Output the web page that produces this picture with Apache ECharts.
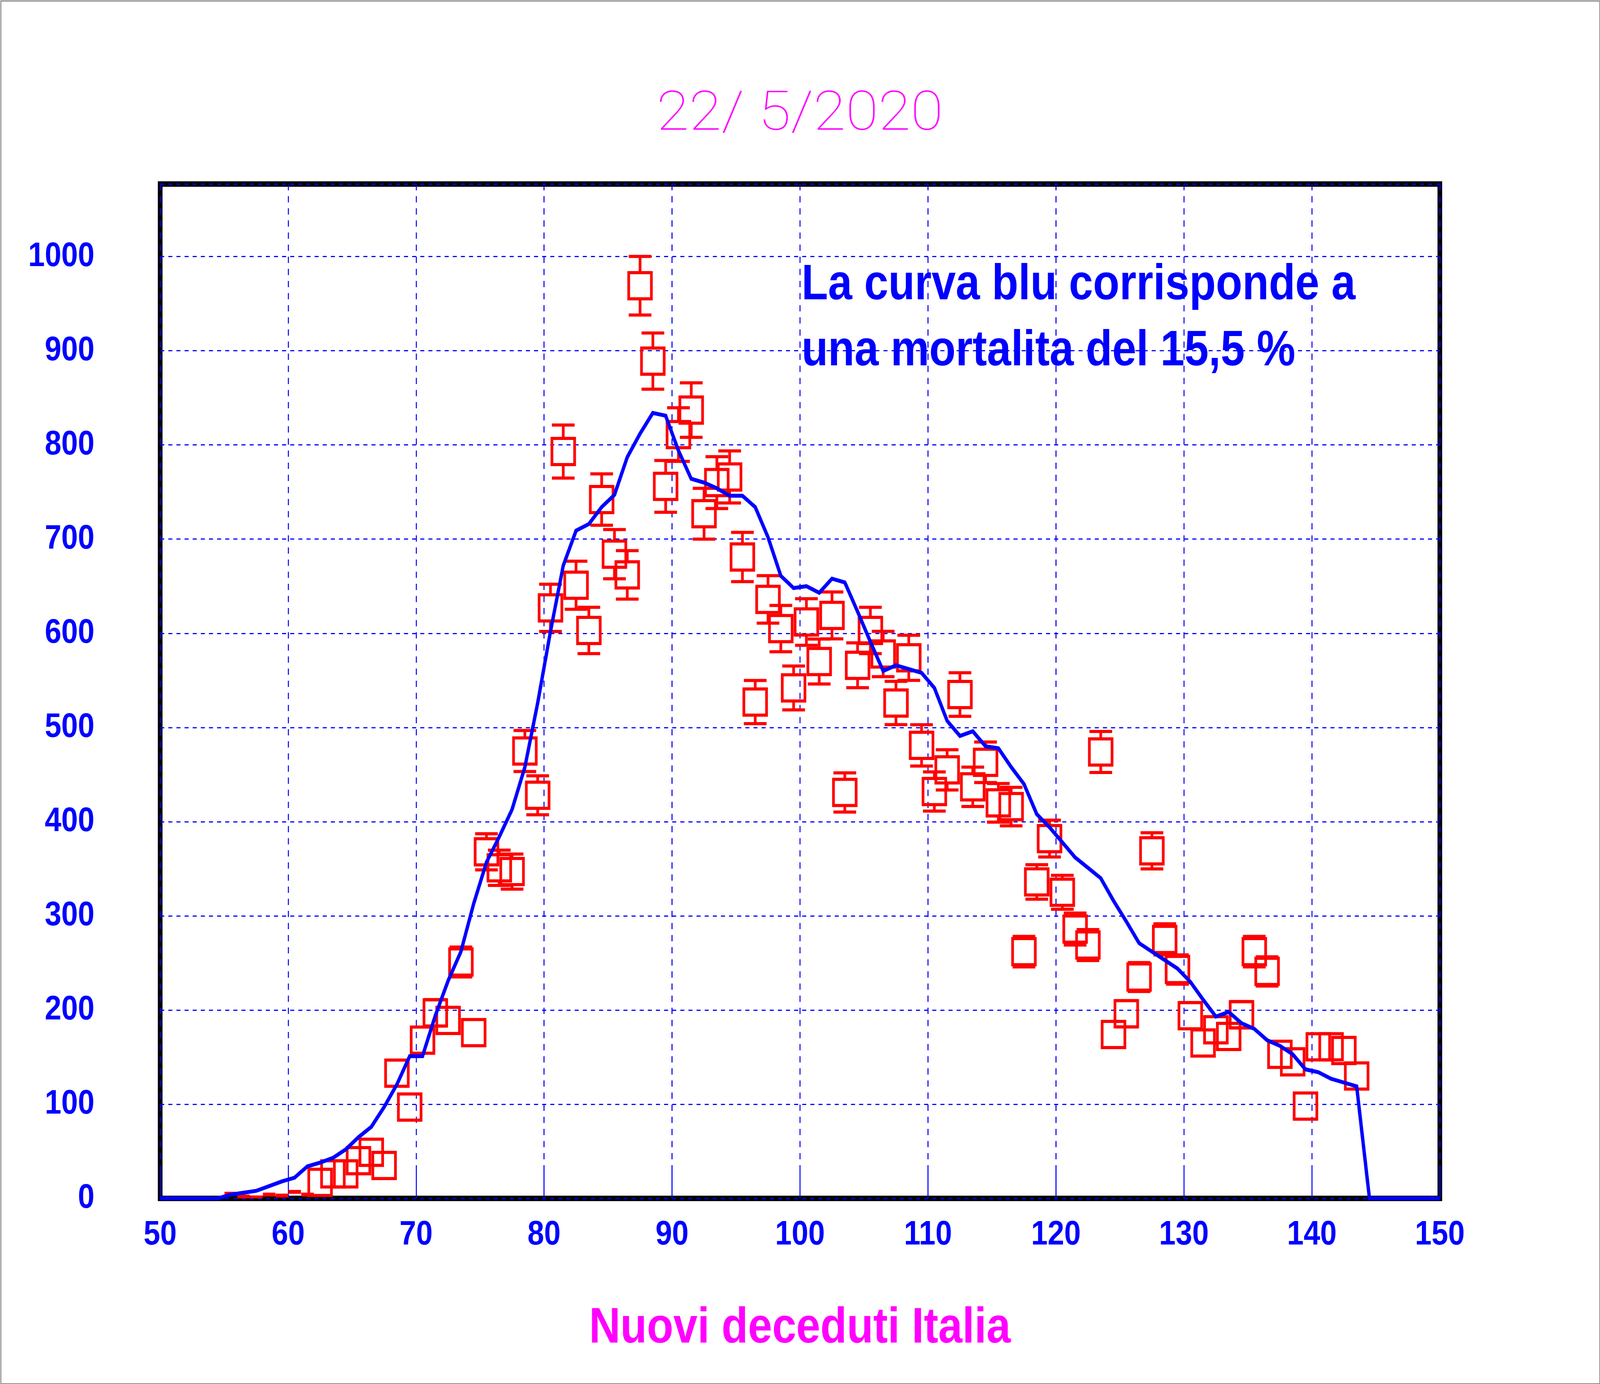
<!DOCTYPE html>
<html>
<head>
<meta charset="utf-8">
<style>
html,body{margin:0;padding:0;background:#fff;overflow:hidden;}
#chart{width:4725px;height:3542px;transform-origin:0 0;}
</style>
<script src="https://cdn.jsdelivr.net/npm/echarts@6/dist/echarts.min.js"></script>
</head>
<body>
<div id="chart"></div>
<script>
// ---- data ----
const days = [55.5,56.5,57.5,58.5,59.5,60.5,61.5,62.5,63.5,64.5,
  65.5,66.5,67.5,68.5,69.5,70.5,71.5,72.5,73.5,74.5,
  75.5,76.5,77.5,78.5,79.5,80.5,81.5,82.5,83.5,84.5,
  85.5,86.5,87.5,88.5,89.5,90.5,91.5,92.5,93.5,94.5,
  95.5,96.5,97.5,98.5,99.5,100.5,101.5,102.5,103.5,104.5,
  105.5,106.5,107.5,108.5,109.5,110.5,111.5,112.5,113.5,114.5,
  115.5,116.5,117.5,118.5,119.5,120.5,121.5,122.5,123.5,124.5,
  125.5,126.5,127.5,128.5,129.5,130.5,131.5,132.5,133.5,134.5,
  135.5,136.5,137.5,138.5,139.5,140.5,141.5,142.5,143.5];
const deaths = [5,2,1,4,3,7,4,17,26,26,
  40,49,35,133,97,168,197,189,251,176,
  368,351,347,475,428,627,793,651,603,742,
  684,662,969,889,756,811,837,727,760,766,
  681,527,636,605,542,612,570,619,431,566,
  603,578,526,574,481,432,455,535,437,463,
  420,416,262,336,382,325,286,269,474,174,
  196,235,369,275,243,194,165,179,172,195,
  262,241,153,145,98,161,161,157,130];
const modelX = [50,54.5,55.5,56.5,57.5,58.5,59.5,60.5,61.5,62.5,63.5,64.5,
  65.5,66.5,67.5,68.5,69.5,70.5,71.5,72.5,73.5,74.5,
  75.5,76.5,77.5,78.5,79.5,80.5,81.5,82.5,83.5,84.5,
  85.5,86.5,87.5,88.5,89.5,90.5,91.5,92.5,93.5,94.5,
  95.5,96.5,97.5,98.5,99.5,100.5,101.5,102.5,103.5,104.5,
  105.5,106.5,107.5,108.5,109.5,110.5,111.5,112.5,113.5,114.5,
  115.5,116.5,117.5,118.5,119.5,120.5,121.5,122.5,123.5,124.5,
  125.5,126.5,127.5,128.5,129.5,130.5,131.5,132.5,133.5,134.5,
  135.5,136.5,137.5,138.5,139.5,140.5,141.5,142.5,143.5,144.5,150];
const modelY = [0,0,4,6,8,13,18,22,34,38,43,52,
  65,76,97,121,151,151,194,231,262,313,
  357,384,413,458,526,602,672,709,716,734,
  747,787,812,834,831,794,764,760,754,746,
  746,734,702,661,648,650,643,658,654,623,
  591,560,566,562,558,542,507,491,496,480,
  478,458,440,408,394,378,362,351,340,316,
  294,271,262,253,244,230,211,193,198,186,
  180,168,162,153,137,134,127,123,119,0,0];
const xTicks = [50,60,70,80,90,100,110,120,130,140,150];
const yTicks = [0,100,200,300,400,500,600,700,800,900,1000];
const titleText = '22/ 5/2020';
const noteLines = ['La curva blu corrisponde a', 'una mortalita del 15,5 %'];
const xTitle = 'Nuovi deceduti Italia';

// fit the 4725x3542 drawing into whatever window we get
const el = document.getElementById('chart');
const iw = window.innerWidth || 4725, ih = window.innerHeight || 3542;
el.style.transform = 'scale(' + (iw / 4725) + ',' + (ih / 3542) + ')';

// ---- chart ----
const BLUE = '#0000ff', RED = '#ff0000', MAG = '#ff00ff';
const boldFont = "'Liberation Sans', Arial, Helvetica, sans-serif";
const chart = echarts.init(el, null, {renderer: 'canvas', width: 4725, height: 3542});

const points = days.map((d, i) => [d, deaths[i]]);
const model = modelX.map((x, i) => [x, modelY[i]]);

function renderBox(params, api) {
  const x = api.value(0), v = api.value(1);
  const c = api.coord([x, v]);
  const unit = api.size([1, 1]);
  const half = 33.5;
  const children = [];
  if (v < 10) {
    children.push({type: 'rect', shape: {x: c[0] - 18, y: c[1] - 5, width: 37, height: 10}, style: {fill: RED}});
  } else {
    children.push({type: 'rect', shape: {x: c[0] - half, y: c[1] - half, width: 2 * half, height: 2 * half},
      style: {fill: null, stroke: RED, lineWidth: 8}});
    const e = Math.sqrt(v) * unit[1];
    if (e >= half) {
      [-1, 1].forEach(s => {
        children.push({type: 'line', shape: {x1: c[0], y1: c[1] + s * half, x2: c[0], y2: c[1] + s * e},
          style: {stroke: RED, lineWidth: 8}});
        children.push({type: 'line', shape: {x1: c[0] - half, y1: c[1] + s * e, x2: c[0] + half, y2: c[1] + s * e},
          style: {stroke: RED, lineWidth: 8}});
      });
    }
  }
  return {type: 'group', children: children};
}

const option = {
  animation: false,
  backgroundColor: '#ffffff',
  grid: {left: 473, right: 473, top: 471, bottom: 475, show: true,
    borderColor: '#000000', borderWidth: 14, backgroundColor: 'transparent', containLabel: false},
  xAxis: {
    type: 'value', min: xTicks[0], max: xTicks[xTicks.length - 1], interval: 10,
    axisLine: {show: false},
    axisTick: {show: true, inside: true, length: 72, lineStyle: {color: BLUE, width: 3}},
    axisLabel: {color: BLUE, fontFamily: boldFont, fontWeight: 'bold', fontSize: 88, margin: 50},
    splitLine: {show: true, lineStyle: {color: BLUE, width: 3, type: [16, 15]}}
  },
  yAxis: {
    type: 'value', min: yTicks[0], max: 1077, interval: 100,
    axisLine: {show: false},
    axisTick: {show: true, inside: true, length: 10, lineStyle: {color: BLUE, width: 3}},
    axisLabel: {color: BLUE, fontFamily: boldFont, fontWeight: 'bold', fontSize: 88, margin: 194,
      formatter: v => (yTicks.indexOf(v) >= 0 ? String(v) : '')},
    splitLine: {show: true, lineStyle: {color: BLUE, width: 3, type: [12, 12]}}
  },
  series: [
    {type: 'custom', data: points, renderItem: renderBox, clip: true, z: 3,
      encode: {x: 0, y: 1}},
    {type: 'line', data: model, symbol: 'none', clip: true, z: 5,
      lineStyle: {color: BLUE, width: 10, join: 'miter'}}
  ],
  graphic: [
    {type: 'rect', left: 0, top: 0, silent: true, z: 100,
      shape: {x: 1.5, y: 1.5, width: 4722, height: 3539}, style: {fill: null, stroke: '#8c8c8c', lineWidth: 3}},
    {type: 'text', x: 2362, y: 297, scaleX: 1.25, z: 100,
      style: {text: titleText, fill: MAG, font: "100 140px Roboto, 'DejaVu Sans', sans-serif",
        textAlign: 'center', textVerticalAlign: 'middle'}},
    {type: 'text', x: 2367, y: 731, z: 100,
      style: {text: noteLines[0], fill: BLUE, font: "bold 128px " + boldFont,
        textAlign: 'left', textVerticalAlign: 'middle'}},
    {type: 'text', x: 2367, y: 900, z: 100,
      style: {text: noteLines[1], fill: BLUE, font: "bold 128px " + boldFont,
        textAlign: 'left', textVerticalAlign: 'middle'}},
    {type: 'text', x: 2362, y: 3401, z: 100,
      style: {text: xTitle, fill: MAG, font: "bold 128px " + boldFont,
        textAlign: 'center', textVerticalAlign: 'middle'}}
  ]
};
chart.setOption(option);
</script>
</body>
</html>
